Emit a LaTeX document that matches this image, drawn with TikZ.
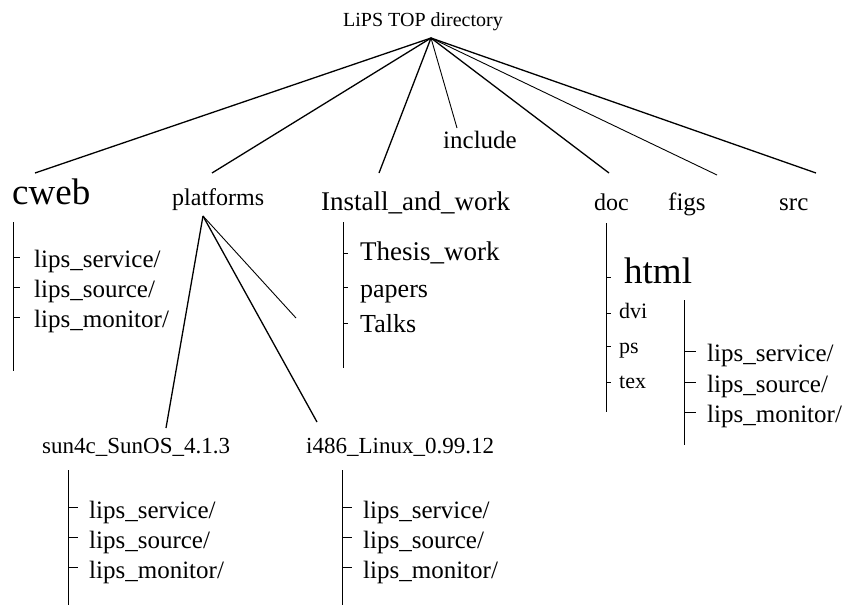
\documentclass[tikz,border=0pt]{standalone}
\usepackage{fontspec}
\setmainfont{Liberation Serif}
\newcommand\fsz[1]{\fontsize{#1}{#1}\selectfont}
\tikzset{
  lbl/.style={inner sep=0pt, anchor=base west},
  thick1/.style={line width=1.3pt},
  thin1/.style={line width=0.9pt},
  vline/.style={line width=0.9pt},
}
\begin{document}
\begin{tikzpicture}[x=1pt,y=-1pt]
\useasboundingbox (0,0) rectangle (844,605);
% root
\node[lbl, font=\fsz{20}] (top) at (343,26) {LiPS TOP directory};
\coordinate (root) at (431,38);
% first level labels
\node[lbl, font=\fsz{37}] (cweb) at (12,204) {cweb};
\node[lbl, font=\fsz{24}] (platforms) at (172,205) {platforms};
\node[lbl, font=\fsz{27}] (install) at (321,210) {Install\_and\_work};
\node[lbl, font=\fsz{25}] (include) at (443,148) {include};
\node[lbl, font=\fsz{24}] (doc) at (594,210) {doc};
\node[lbl, font=\fsz{25}] (figs) at (668,210) {figs};
\node[lbl, font=\fsz{25}] (src) at (779,210) {src};
% connector ends
\coordinate (eCweb) at (35,173);
\coordinate (ePlat) at (212,173);
\coordinate (eInst) at (379,173);
\coordinate (eIncl) at (457,128);
\coordinate (eDoc) at (609,173);
\coordinate (eFigs) at (717,175);
\coordinate (eSrc) at (816,173);
\draw[thick1] (root) -- (eCweb);
\draw[thick1] (root) -- (ePlat);
\draw[thick1] (root) -- (eInst);
\draw[thin1] (root) -- (eIncl);
\draw[thick1] (root) -- (eDoc);
\draw[thin1] (root) -- (eFigs);
\draw[thick1] (root) -- (eSrc);
% cweb subtree
\draw[vline] (13,222) -- (13,371);
\foreach \y in {257,287,317} \draw[vline] (13,\y) -- (20,\y);
\node[lbl, font=\fsz{25}] (cw1) at (34,267) {lips\_service/};
\node[lbl, font=\fsz{25}] (cw2) at (34,297) {lips\_source/};
\node[lbl, font=\fsz{25}] (cw3) at (34,327) {lips\_monitor/};
% platforms subtree
\coordinate (pRoot) at (203,216);
\coordinate (eSun) at (166,428);
\coordinate (eI486) at (317,422);
\coordinate (eShort) at (296,318);
\draw[thick1] (pRoot) -- (eSun);
\draw[thick1] (pRoot) -- (eI486);
\draw[thin1] (pRoot) -- (eShort);
\node[lbl, font=\fsz{23}] (sun) at (42,453) {sun4c\_SunOS\_4.1.3};
\node[lbl, font=\fsz{23}] (i486) at (306,453) {i486\_Linux\_0.99.12};
% sun subtree
\draw[vline] (68,470) -- (68,605);
\foreach \y in {507,537,567} \draw[vline] (68,\y) -- (78,\y);
\node[lbl, font=\fsz{25}] (s1) at (89,518) {lips\_service/};
\node[lbl, font=\fsz{25}] (s2) at (89,548) {lips\_source/};
\node[lbl, font=\fsz{25}] (s3) at (89,578) {lips\_monitor/};
% i486 subtree
\draw[vline] (342,470) -- (342,605);
\foreach \y in {507,537,567} \draw[vline] (342,\y) -- (352,\y);
\node[lbl, font=\fsz{25}] (l1) at (363,518) {lips\_service/};
\node[lbl, font=\fsz{25}] (l2) at (363,548) {lips\_source/};
\node[lbl, font=\fsz{25}] (l3) at (363,578) {lips\_monitor/};
% install subtree
\draw[vline] (343,222) -- (343,368);
\foreach \y in {253,287,323} \draw[vline] (343,\y) -- (348,\y);
\node[lbl, font=\fsz{27}] (thesis) at (360,260) {Thesis\_work};
\node[lbl, font=\fsz{26}] (papers) at (360,297) {papers};
\node[lbl, font=\fsz{26}] (talks) at (360,332) {Talks};
% doc subtree
\draw[vline] (606,223) -- (606,412);
\foreach \y in {277,313,346,382} \draw[vline] (606,\y) -- (611,\y);
\node[lbl, font=\fsz{37}] (html) at (624,283) {html};
\node[lbl, font=\fsz{22}] (dvi) at (619,318) {dvi};
\node[lbl, font=\fsz{22}] (ps) at (619,353) {ps};
\node[lbl, font=\fsz{22}] (tex) at (619,388) {tex};
% html subtree
\draw[vline] (684,300) -- (684,445);
\foreach \y in {351,382,412} \draw[vline] (684,\y) -- (696,\y);
\node[lbl, font=\fsz{25}] (h1) at (707,361) {lips\_service/};
\node[lbl, font=\fsz{25}] (h2) at (707,392) {lips\_source/};
\node[lbl, font=\fsz{25}] (h3) at (707,422) {lips\_monitor/};
\end{tikzpicture}
\end{document}
